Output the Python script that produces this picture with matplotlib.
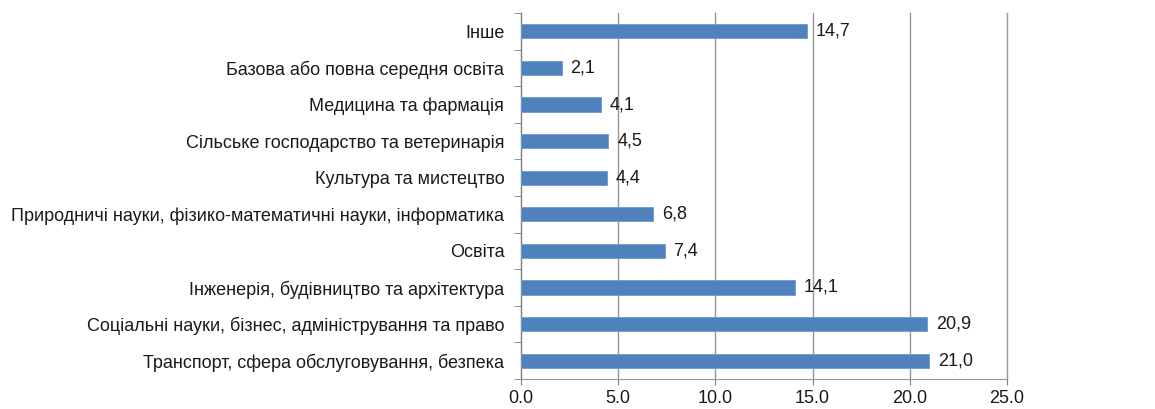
import matplotlib
matplotlib.use("Agg")
import matplotlib.pyplot as plt
import numpy as np

categories = [
    "Транспорт, сфера обслуговування, безпека",
    "Соціальні науки, бізнес, адміністрування та право",
    "Інженерія, будівництво та архітектура",
    "Освіта",
    "Природничі науки, фізико-математичні науки, інформатика",
    "Культура та мистецтво",
    "Сільське господарство та ветеринарія",
    "Медицина та фармація",
    "Базова або повна середня освіта",
    "Інше",
]
values = [21.0, 20.9, 14.1, 7.4, 6.8, 4.4, 4.5, 4.1, 2.1, 14.7]
xticks = [0, 5, 10, 15, 20, 25]
xtick_labels = ["0.0", "5.0", "10.0", "15.0", "20.0", "25.0"]

plt.rcParams['font.family'] = ['Liberation Sans', 'DejaVu Sans']

fig = plt.figure(figsize=(11.55, 4.09), dpi=100)
ax = fig.add_axes([521/1155, 1-379/409, (1007-521)/1155, (379-13)/409])

y = np.arange(len(categories))
ax.barh(y, values, height=0.39, color="#4F81BD", edgecolor="#6E9BD0", linewidth=0.6, zorder=3)
for yi, v in zip(y, values):
    ax.text(v + 0.45, yi, f"{v:.1f}".replace(".", ","), va="center", ha="left", fontsize=13, color="#1a1a1a")

ax.set_xlim(0, 25)
ax.set_ylim(-0.5, len(categories) - 0.5)
ax.set_xticks(xticks)
ax.set_xticklabels(xtick_labels, fontsize=13)
ax.set_yticks(y)
ax.set_yticklabels(categories, fontsize=13)
ax.set_yticks(np.arange(-0.5, len(categories)), minor=True)
ax.tick_params(axis="y", which="major", length=0, pad=12, colors="#1a1a1a")
ax.tick_params(axis="y", which="minor", length=5, color="#808080", direction="out")
ax.tick_params(axis="x", which="major", length=4, color="#808080", direction="out", pad=4, labelcolor="#1a1a1a")
ax.grid(axis="x", color="#969696", linewidth=1.0, zorder=0)
for gl in ax.get_xgridlines():
    gl.set_clip_on(False)
for s in ["top", "right"]:
    ax.spines[s].set_visible(False)
ax.spines["left"].set_color("#808080")
ax.spines["bottom"].set_color("#969696")

fig.savefig("out.png", dpi=100)
